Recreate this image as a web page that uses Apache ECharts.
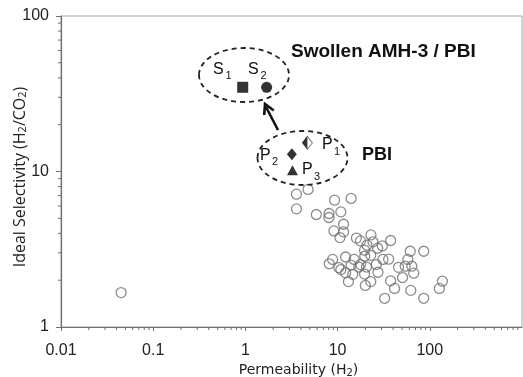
<!DOCTYPE html>
<html>
<head>
<meta charset="utf-8">
<script src="https://cdn.jsdelivr.net/npm/echarts@6/dist/echarts.min.js"></script>
<style>html,body{margin:0;padding:0;background:#fff;}#c{width:523px;height:377px;}</style>
</head>
<body>
<div id="c"></div>
<script>
// Literature data: [permeability H2, selectivity H2/CO2]
const literaturePoints = [
  [3.58,7.15],[4.78,7.67],[9.28,6.54],[14.0,6.71],[3.58,5.75],[5.88,5.29],[8.06,5.37],[8.06,5.06],
  [10.85,5.5],[11.6,4.58],[9.12,4.15],[11.6,4.09],[10.6,3.76],[16.0,3.73],[17.7,3.58],[23.0,3.91],
  [24.2,3.53],[20.8,3.36],[27.2,3.21],[30.6,3.32],[37.6,3.6],[19.6,3.12],[22.9,2.89],[19.7,2.85],
  [61.3,3.07],[85.9,3.07],[8.83,2.72],[8.12,2.55],[12.2,2.82],[15.1,2.72],[14.0,2.5],[10.3,2.41],
  [10.85,2.34],[12.2,2.23],[14.6,2.18],[17.7,2.52],[20.6,2.43],[19.6,2.19],[26.3,2.52],[27.4,2.25],
  [31.0,2.72],[35.8,2.73],[13.1,1.96],[20.0,1.85],[22.9,1.96],[37.6,1.98],[41.5,1.77],[50.6,2.08],
  [45.8,2.42],[54.1,2.46],[57.8,2.72],[63.8,2.46],[67.0,2.22],[32.4,1.53],[62.2,1.72],[85.9,1.53],
  [127,1.77],[137,1.97],[17.0,2.43],[0.0449,1.665]
];
const s1Point = [[0.935, 34.8]];
const s2Point = [[1.70, 34.8]];
const p1Point = [[4.70, 15.3]];
const p2Point = [[3.19, 12.9]];
const p3Point = [[3.24, 10.2]];
const xTickValues = [0.01, 0.1, 1, 10, 100, 1000];
const yTickValues = [1, 10, 100];

const chart = echarts.init(document.getElementById('c'));
const axisCol = '#6e6e6e';
const labelFont = 'Liberation Sans';

const option = {
  animation: false,
  backgroundColor: '#fff',
  grid: { left: 61, right: 1, top: 16, bottom: 50, show: true, borderColor: '#a8a8a8', borderWidth: 1,
          containLabel: false, outerBoundsMode: 'none' },
  xAxis: {
    type: 'log', min: xTickValues[0], max: xTickValues[xTickValues.length-1], logBase: 10,
    name: '{n|Permeability (H}{s|2}{n|)}', nameLocation: 'middle', nameGap: 36, nameMoveOverlap: false,
    nameTextStyle: { padding: [0,0,0,14], rich: { n: { fontFamily: 'DejaVu Sans', fontSize: 14, color: '#222' }, s: { fontFamily: 'DejaVu Sans', fontSize: 10, color: '#222', padding: [5,0,0,0] } } },
    axisLine: { lineStyle: { color: axisCol, width: 1.2 } },
    axisTick: { show: true, inside: false, length: 4, lineStyle: { color: axisCol } },
    splitLine: { show: false },
    axisLabel: { fontFamily: labelFont, fontSize: 16, color: '#222', margin: 16,
      showMaxLabel: false,
      formatter: v => (v >= 1 ? String(Math.round(v)) : String(+v.toPrecision(1))) }
  },
  yAxis: {
    type: 'log', min: yTickValues[0], max: yTickValues[yTickValues.length-1], logBase: 10,
    name: '{n|Ideal Selectivity (H}{s|2}{n|/CO}{s|2}{n|)}', nameLocation: 'middle', nameGap: 33, nameRotate: 90,
    nameMoveOverlap: false,
    nameTextStyle: { padding: [0,11,0,0], rich: { n: { fontFamily: 'Open Sans', fontSize: 16, color: '#222' }, s: { fontFamily: 'Open Sans', fontSize: 11, color: '#222', padding: [5,0,0,0] } } },
    axisLine: { lineStyle: { color: axisCol, width: 1.2 } },
    axisTick: { show: true, inside: false, length: 5, lineStyle: { color: axisCol } },
    splitLine: { show: false },
    axisLabel: { fontFamily: labelFont, fontSize: 16, color: '#222', margin: 12 }
  },
  series: [
    { type: 'scatter', data: literaturePoints, symbol: 'circle', symbolSize: 10,
      itemStyle: { color: 'rgba(255,255,255,0)', borderColor: '#6f6f6f', borderWidth: 1.3 }, z: 2 },
    { type: 'scatter', data: s1Point, symbol: 'rect', symbolSize: 11, itemStyle: { color: '#000' }, z: 5 },
    { type: 'scatter', data: s2Point, symbol: 'circle', symbolSize: 11, itemStyle: { color: '#000' }, z: 5 },
    { type: 'scatter', data: p1Point, symbol: 'diamond', symbolSize: [10, 13],
      itemStyle: { color: '#fff', borderColor: '#555', borderWidth: 1 }, z: 5 },
    { type: 'scatter', data: p1Point, symbol: 'path://M10,0 L0,10 L10,20 Z', symbolSize: [5, 13], symbolOffset: [-2.5, 0],
      itemStyle: { color: '#000' }, z: 6 },
    { type: 'scatter', data: p2Point, symbol: 'diamond', symbolSize: [10, 12], itemStyle: { color: '#000' }, z: 5 },
    { type: 'scatter', data: p3Point, symbol: 'triangle', symbolSize: [11, 10], itemStyle: { color: '#000' }, z: 5 }
  ]
};
chart.setOption(option);

// Minor log ticks drawn through the axis scales
const g = [];
for (let d = -2; d < 3; d++) {
  for (let k = 2; k <= 9; k++) {
    const v = k * Math.pow(10, d);
    const p = chart.convertToPixel({ gridIndex: 0 }, [v, 1]);
    g.push({ type: 'line', shape: { x1: p[0], y1: p[1], x2: p[0], y2: p[1] + 3 }, style: { stroke: axisCol, lineWidth: 1 }, silent: true });
  }
}
for (let d = 0; d < 2; d++) {
  for (let k = 2; k <= 9; k++) {
    const v = k * Math.pow(10, d);
    const p = chart.convertToPixel({ gridIndex: 0 }, [0.01, v]);
    g.push({ type: 'line', shape: { x1: p[0] - 3, y1: p[1], x2: p[0], y2: p[1] }, style: { stroke: axisCol, lineWidth: 1 }, silent: true });
  }
}
// Annotations
const dash = { stroke: '#222', fill: null, lineWidth: 1.8, lineDash: [5, 4] };
g.push({ type: 'ellipse', shape: { cx: 244, cy: 75, rx: 45, ry: 27 }, style: dash, z: 3 });
g.push({ type: 'ellipse', shape: { cx: 302.5, cy: 158, rx: 45, ry: 27 }, style: dash, z: 3 });
g.push({ type: 'polyline', shape: { points: [[278, 130], [266, 107]] }, style: { stroke: '#111', lineWidth: 2.6, fill: null }, z: 3 });
g.push({ type: 'polyline', shape: { points: [[273.8, 110.5], [265, 104], [264.2, 115]] }, style: { stroke: '#111', lineWidth: 2.6, fill: null, lineJoin: 'miter' }, z: 3 });
const txt = (s, x, y, size, bold) => ({ type: 'text', z: 10, style: { text: s, x: x, y: y, fill: '#111', font: (bold ? 'bold ' : '') + size + 'px "Liberation Sans"', textVerticalAlign: 'middle', verticalAlign: 'middle' } });
g.push(txt('Swollen AMH-3 / PBI', 291, 52, 19, true));
g.push(txt('PBI', 362, 155, 18, true));
g.push(txt('S', 213, 69.5, 16)); g.push(txt('1', 225.5, 76, 11));
g.push(txt('S', 248, 69.5, 16)); g.push(txt('2', 260.5, 76, 11));
g.push(txt('P', 322, 144.5, 16)); g.push(txt('1', 334, 152, 11));
g.push(txt('P', 260, 156, 16)); g.push(txt('2', 272, 162, 11));
g.push(txt('P', 302, 170, 16)); g.push(txt('3', 314, 177, 11));
chart.setOption({ graphic: g });
</script>
</body>
</html>
